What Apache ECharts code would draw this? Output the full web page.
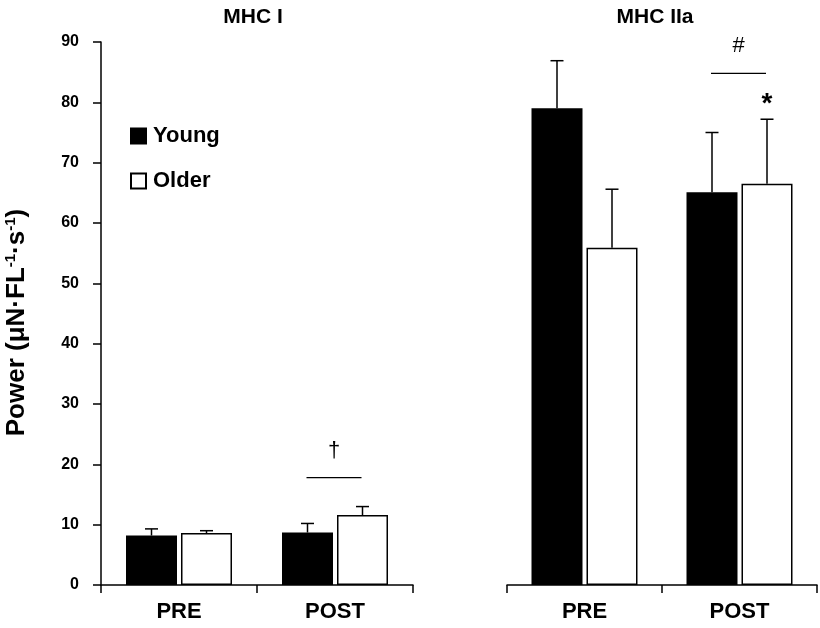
<!DOCTYPE html>
<html><head><meta charset="utf-8">
<script src="https://cdn.jsdelivr.net/npm/echarts@6/dist/echarts.min.js"></script>
<style>html,body{margin:0;padding:0;background:#fff}#c{width:820px;height:628px}</style>
</head><body><div id="c"></div>
<script>
const categories = ['PRE', 'POST'];
const panelTitles = ['MHC I', 'MHC IIa'];
const yTicks = [0, 10, 20, 30, 40, 50, 60, 70, 80, 90];
// MHC I panel
const mhc1Young = [8.2, 8.7];
const mhc1YoungErr = [9.3, 10.2];
const mhc1Older = [8.6, 11.6];
const mhc1OlderErr = [9.0, 13.0];
// MHC IIa panel
const mhc2Young = [79.0, 65.1];
const mhc2YoungErr = [86.9, 75.0];
const mhc2Older = [55.9, 66.5];
const mhc2OlderErr = [65.6, 77.2];
// significance annotations: [panel, categoryIndex, yLine, symbol]
const sigLines = [[0, 1, 17.8, '†'], [1, 1, 84.8, '#']];
const stars = [[1, 1, 79.6, '*']];

const FONT = 'Liberation Sans, Arial, sans-serif';
const BW = 51, GAP = 4;
const OFF = (BW + GAP) / 2;

function errSeries(grid, young, youngErr, older, olderErr) {
  const data = [];
  categories.forEach((c, i) => {
    data.push([i, young[i], youngErr[i], -1]);
    data.push([i, older[i], olderErr[i], 1]);
  });
  return {
    type: 'custom', xAxisIndex: grid, yAxisIndex: grid, z: 5, silent: true,
    data: data,
    renderItem: function (params, api) {
      const base = api.coord([api.value(0), api.value(1)]);
      const top = api.coord([api.value(0), api.value(2)]);
      const x = base[0] + api.value(3) * OFF;
      return {
        type: 'group', children: [
          { type: 'line', shape: { x1: x, y1: base[1], x2: x, y2: top[1] }, style: { stroke: '#000', lineWidth: 1.5 } },
          { type: 'line', shape: { x1: x - 6.5, y1: top[1], x2: x + 6.5, y2: top[1] }, style: { stroke: '#000', lineWidth: 1.5 } }
        ]
      };
    }
  };
}

function sigSeries(grid) {
  const lines = sigLines.filter(s => s[0] === grid);
  const st = stars.filter(s => s[0] === grid);
  return {
    type: 'custom', xAxisIndex: grid, yAxisIndex: grid, z: 6, silent: true,
    data: lines.map(s => [s[1], s[2]]).concat(st.map(s => [s[1], s[2]])),
    renderItem: function (params, api) {
      const d = params.dataIndex < lines.length ? lines[params.dataIndex] : null;
      const p = api.coord([api.value(0), api.value(1)]);
      if (d) {
        return {
          type: 'group', children: [
            { type: 'line', shape: { x1: p[0] - OFF - 1, y1: p[1], x2: p[0] + OFF - 1, y2: p[1] }, style: { stroke: '#000', lineWidth: 1.3 } },
            { type: 'text', x: p[0] - 1, y: p[1] - 16, style: { text: d[3], fill: '#000', font: 'normal 22px ' + FONT, align: 'center', verticalAlign: 'bottom' } }
          ]
        };
      }
      const s = st[params.dataIndex - lines.length];
      return { type: 'text', x: p[0] + OFF, y: p[1], style: { text: s[3], fill: '#000', font: 'bold 28px ' + FONT, align: 'center', verticalAlign: 'middle' } };
    }
  };
}

function barSeries(name, grid, vals, color) {
  return {
    name: name, type: 'bar', xAxisIndex: grid, yAxisIndex: grid,
    data: vals, barWidth: BW, barGap: (GAP / BW * 100) + '%',
    itemStyle: { color: color, borderColor: '#000', borderWidth: 1.5 },
    emphasis: { disabled: true }
  };
}

const axisLabelY = { color: '#000', fontFamily: FONT, fontWeight: 'bold', fontSize: 16, margin: 22 };
const xAxisCommon = {
  type: 'category', data: categories,
  axisLine: { lineStyle: { color: '#000', width: 1.5 } },
  axisTick: { show: true, length: 8, lineStyle: { color: '#000', width: 1.5 } },
  axisLabel: { color: '#000', fontFamily: FONT, fontWeight: 'bold', fontSize: 22, margin: 16 }
};

const chart = echarts.init(document.getElementById('c'));
chart.setOption({
  backgroundColor: '#fff',
  animation: false,
  title: [
    { text: panelTitles[0], left: 248, top: 2, textAlign: 'center', textStyle: { color: '#000', fontFamily: FONT, fontWeight: 'bold', fontSize: 21 } },
    { text: panelTitles[1], left: 650, top: 2, textAlign: 'center', textStyle: { color: '#000', fontFamily: FONT, fontWeight: 'bold', fontSize: 21 } }
  ],
  legend: {
    orient: 'vertical', left: 125, top: 120, itemWidth: 15, itemHeight: 15, itemGap: 23,
    icon: 'rect',
    data: ['Young', 'Older'],
    textStyle: { color: '#000', fontFamily: FONT, fontWeight: 'bold', fontSize: 22, padding: [0, 0, 0, 2] },
    selectedMode: false
  },
  grid: [
    { left: 101, right: 407, top: 42, bottom: 43 },
    { left: 507, right: 3, top: 42, bottom: 43 }
  ],
  xAxis: [Object.assign({ gridIndex: 0 }, xAxisCommon), Object.assign({ gridIndex: 1 }, xAxisCommon)],
  yAxis: [
    {
      gridIndex: 0, type: 'value', min: yTicks[0], max: yTicks[yTicks.length - 1], interval: 10,
      name: 'Power (μN·FL{sup|-1}·s{sup|-1})', nameLocation: 'middle', nameRotate: 90, nameGap: 70,
      nameTextStyle: {
        color: '#000', fontFamily: FONT, fontWeight: 'bold', fontSize: 26, padding: [0, 18, 0, 0],
        rich: { sup: { color: '#000', fontFamily: FONT, fontWeight: 'bold', fontSize: 15, verticalAlign: 'top', lineHeight: 28 } }
      },
      axisLine: { show: true, lineStyle: { color: '#000', width: 1.5 } },
      axisTick: { show: true, length: 8, lineStyle: { color: '#000', width: 1.5 } },
      axisLabel: axisLabelY,
      splitLine: { show: false }
    },
    { gridIndex: 1, type: 'value', min: yTicks[0], max: yTicks[yTicks.length - 1], interval: 10, show: false, splitLine: { show: false } }
  ],
  series: [
    barSeries('Young', 0, mhc1Young, '#000'),
    barSeries('Older', 0, mhc1Older, '#fff'),
    barSeries('Young', 1, mhc2Young, '#000'),
    barSeries('Older', 1, mhc2Older, '#fff'),
    errSeries(0, mhc1Young, mhc1YoungErr, mhc1Older, mhc1OlderErr),
    errSeries(1, mhc2Young, mhc2YoungErr, mhc2Older, mhc2OlderErr),
    sigSeries(0),
    sigSeries(1)
  ]
});
</script></body></html>
